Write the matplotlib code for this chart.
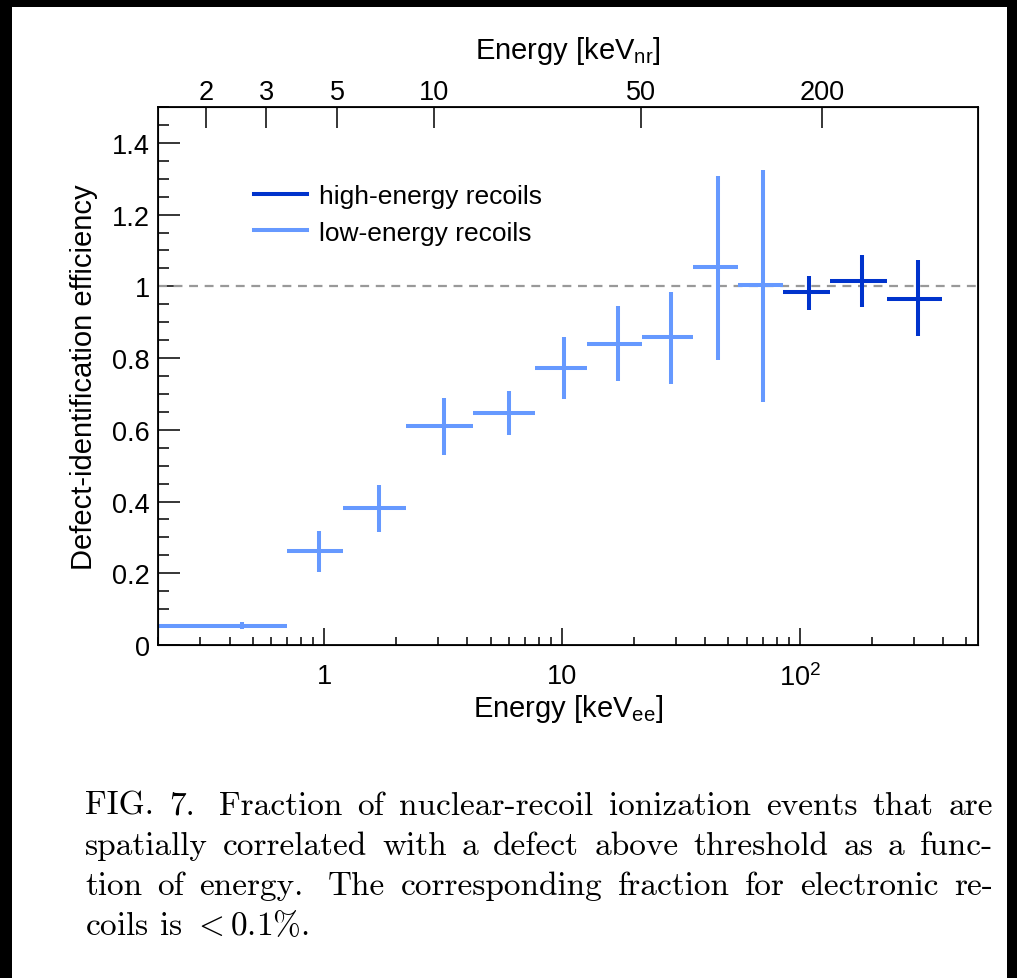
import matplotlib
matplotlib.use('Agg')
import matplotlib.pyplot as plt
from matplotlib.patches import Rectangle
from matplotlib.lines import Line2D
from matplotlib.ticker import FixedLocator, MultipleLocator, FuncFormatter, NullFormatter, LogLocator
from matplotlib.transforms import IdentityTransform

plt.rcParams['font.family'] = ['Liberation Sans', 'DejaVu Sans']
plt.rcParams['mathtext.fontset'] = 'custom'
plt.rcParams['mathtext.rm'] = 'Liberation Sans'
plt.rcParams['mathtext.it'] = 'Liberation Sans:italic'

# low-energy recoils: bin edges [keVee], centre, efficiency, error down/up
low_lo = [0.2, 0.7, 1.2, 2.2, 4.2, 7.7, 12.7, 21.7, 35.5, 54.8]
low_hi = [0.7, 1.2, 2.2, 4.2, 7.7, 12.7, 21.7, 35.5, 54.8, 84.8]
low_x = [0.45, 0.95, 1.7, 3.2, 5.95, 10.2, 17.2, 28.6, 45.2, 69.8]
low_y = [0.054, 0.262, 0.382, 0.610, 0.646, 0.771, 0.840, 0.858, 1.053, 1.003]
low_ylo = [0.044, 0.203, 0.316, 0.531, 0.585, 0.685, 0.735, 0.729, 0.796, 0.678]
low_yhi = [0.064, 0.319, 0.445, 0.689, 0.708, 0.858, 0.944, 0.984, 1.308, 1.325]

# high-energy recoils
high_lo = [84.8, 134.0, 232.0]
high_hi = [134.0, 232.0, 395.0]
high_x = [109.4, 183.0, 313.5]
high_y = [0.983, 1.015, 0.966]
high_ylo = [0.934, 0.943, 0.861]
high_yhi = [1.030, 1.086, 1.073]

# top axis: keVnr labels and where they sit in keVee
nr_labels = ['2', '3', '5', '10', '50', '200']
nr_in_ee = [0.319, 0.571, 1.134, 2.90, 21.5, 124.0]

caption = [
    "FIG. 7.  Fraction of nuclear-recoil ionization events that are",
    "spatially correlated with a defect above threshold as a func-",
    "tion of energy.  The corresponding fraction for electronic re-",
    r"coils is $< 0.1\%$.",
]

DARK = '#0033CC'
LIGHT = '#6699FF'

W, H = 1017, 979
fig = plt.figure(figsize=(W / 100, H / 100), dpi=100)
fig.patch.set_facecolor('black')
fig.patches.append(Rectangle((12 / W, 0), (1007 - 12) / W, (H - 8) / H,
                             transform=fig.transFigure, facecolor='white',
                             edgecolor='none', zorder=-5))

ax = fig.add_axes([158 / W, 1 - 646 / H, 820 / W, 538 / H])


def draw(ax, lo, hi, x, y, ylo, yhi, color):
    xerr = [[a - b for a, b in zip(x, lo)], [b - a for a, b in zip(x, hi)]]
    yerr = [[a - b for a, b in zip(y, ylo)], [b - a for a, b in zip(y, yhi)]]
    ax.errorbar(x, y, xerr=xerr, yerr=yerr, fmt='none', ecolor=color,
                elinewidth=2.9, capsize=0, zorder=3)


draw(ax, high_lo, high_hi, high_x, high_y, high_ylo, high_yhi, DARK)
draw(ax, low_lo, low_hi, low_x, low_y, low_ylo, low_yhi, LIGHT)
ax.axhline(1.0, color='#999999', lw=1.6, ls=(0, (4, 3)), zorder=2)

ax.set_xscale('log')
ax.set_xlim(0.2, 560)
ax.set_ylim(0, 1.5)

ax.yaxis.set_major_locator(MultipleLocator(0.2))
ax.yaxis.set_minor_locator(MultipleLocator(0.05))
ax.yaxis.set_major_formatter(FuncFormatter(lambda v, _: '%g' % round(v, 2)))
ax.xaxis.set_major_locator(FixedLocator([1, 10, 100]))
ax.set_xticklabels(['1', '10', r'$10^{2}$'])
ax.xaxis.set_minor_locator(LogLocator(subs=[2, 3, 4, 5, 6, 7, 8, 9]))
ax.xaxis.set_minor_formatter(NullFormatter())

ax.tick_params(axis='y', which='major', direction='in', length=16, width=1.1,
               labelsize=19.5, pad=6, right=False)
ax.tick_params(axis='y', which='minor', direction='in', length=8, width=1.1,
               right=False)
ax.tick_params(axis='x', which='major', direction='in', length=12, width=1.1,
               labelsize=19.5, pad=13, top=False)
ax.tick_params(axis='x', which='minor', direction='in', length=6, width=1.1,
               top=False)
for s in ax.spines.values():
    s.set_linewidth(1.3)

ax.set_xlabel(r'Energy [keV$_{\rm ee}$]', fontsize=21, labelpad=1)
ax.set_ylabel('Defect-identification efficiency', fontsize=21, labelpad=10)

top = ax.twiny()
top.set_xscale('log')
top.set_xlim(ax.get_xlim())
top.xaxis.set_major_locator(FixedLocator(nr_in_ee))
top.set_xticklabels(nr_labels)
top.xaxis.set_minor_locator(FixedLocator([]))
top.tick_params(axis='x', which='major', direction='in', length=15, width=1.1,
                labelsize=19.5, pad=1.5)
top.set_xlabel(r'Energy [keV$_{\rm nr}$]', fontsize=21, labelpad=15)

handles = [Line2D([], [], color=DARK, lw=2.9), Line2D([], [], color=LIGHT, lw=2.9)]
ax.legend(handles, ['high-energy recoils', 'low-energy recoils'],
          loc='upper left', bbox_to_anchor=(0.117, 0.857), frameon=False,
          fontsize=19, handlelength=2.0, handletextpad=0.45,
          labelspacing=0.48, borderaxespad=0, borderpad=0)

# caption, justified word by word (last line left as is)
renderer = fig.canvas.get_renderer()
x0, x1 = 85, 993
cap_kw = dict(transform=IdentityTransform(), family='cmr10', fontsize=24,
              math_fontfamily='cm', va='baseline')
for i, line in enumerate(caption):
    yb = H - 815 - 40 * i
    if i == len(caption) - 1:
        fig.text(x0, yb, line, **cap_kw)
        continue
    # a double space stays a little wider than a single one
    words = line.replace('  ', ' \x00').split(' ')
    extra = [1.6 if w.startswith('\x00') else 1.0 for w in words[1:]]
    words = [w.lstrip('\x00') for w in words]
    texts = [fig.text(0, yb, w, **cap_kw) for w in words]
    widths = [t.get_window_extent(renderer).width for t in texts]
    gap = (x1 - x0 - sum(widths)) / sum(extra)
    x = x0
    for j, (t, w) in enumerate(zip(texts, widths)):
        t.set_x(x)
        if j < len(extra):
            x += w + gap * extra[j]

fig.savefig('out.png', dpi=100, facecolor=fig.get_facecolor())
